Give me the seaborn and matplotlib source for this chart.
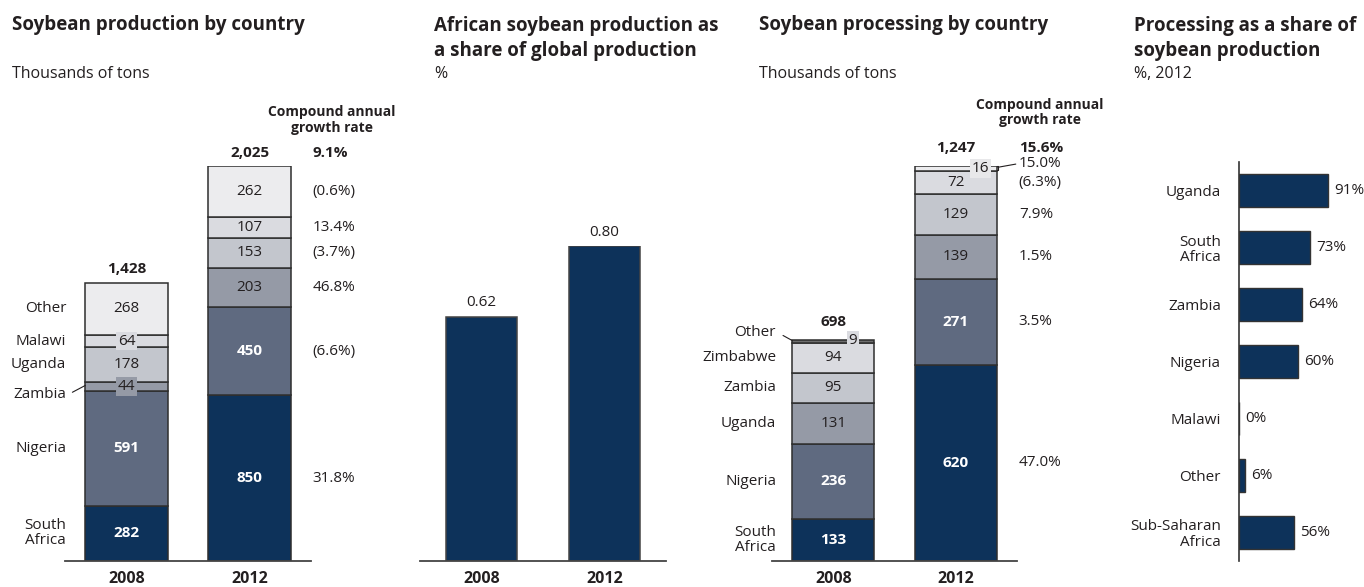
import numpy as np
import matplotlib
matplotlib.use("Agg")
import matplotlib.pyplot as plt
import seaborn as sns

years = ["2008", "2012"]

# soybean production, thousands of tons (stacked bottom -> top)
prod_countries = ["South\nAfrica", "Nigeria", "Zambia", "Uganda", "Malawi", "Other"]
prod_2008 = [282, 591, 44, 178, 64, 268]
prod_2012 = [850, 450, 203, 153, 107, 262]
prod_cagr = ["31.8%", "(6.6%)", "46.8%", "(3.7%)", "13.4%", "(0.6%)"]
prod_totals = [1428, 2025]
prod_total_cagr = "9.1%"

# african production as share of global, %
share_global = [0.62, 0.80]

# soybean processing, thousands of tons
proc_countries = ["South\nAfrica", "Nigeria", "Uganda", "Zambia", "Zimbabwe", "Other"]
proc_2008 = [133, 236, 131, 95, 94, 9]
proc_2012 = [620, 271, 139, 129, 72, 16]
proc_cagr = ["47.0%", "3.5%", "1.5%", "7.9%", "(6.3%)", "15.0%"]
proc_totals = [698, 1247]
proc_total_cagr = "15.6%"

# processing as share of production, 2012
share_countries = ["Uganda", "South\nAfrica", "Zambia", "Nigeria", "Malawi", "Other", "Sub-Saharan\nAfrica"]
share_processed = [91, 73, 64, 60, 0, 6, 56]

NAVY = "#0d325a"
SLATE = "#5f6a80"
MID = "#959aa6"
LIGHT = "#c3c6cd"
LIGHTER = "#dadbe0"
LIGHTEST = "#ececee"
EDGE = "#2e2e2e"
TXT = "#231f20"

sns.set_style("white")
plt.rcParams["font.family"] = ["Open Sans", "DejaVu Sans"]
plt.rcParams["text.color"] = TXT
plt.rcParams["xtick.color"] = TXT
plt.rcParams["ytick.color"] = TXT

W, H = 1364, 587
fig = plt.figure(figsize=(W / 100, H / 100), dpi=100)


def add_ax(l, t, r, b):
    return fig.add_axes([l / W, 1 - b / H, (r - l) / W, (b - t) / H])


def px_text(x, y, s, **kw):
    fig.text(x / W, 1 - y / H, s, **kw)


def stacked(ax, seg_a, seg_b, colors, width):
    segs = np.array([seg_a, seg_b], dtype=float).T
    bottom = np.zeros(2)
    for vals, col in zip(segs, colors):
        sns.barplot(x=years, y=vals, color=col, saturation=1, width=width,
                    bottom=bottom, edgecolor=EDGE, linewidth=1.1,
                    errorbar=None, ax=ax)
        bottom = bottom + vals
    bots = np.vstack([np.zeros(2), np.cumsum(segs, axis=0)[:-1]])
    return segs, bots + segs / 2


def style_cat_axis(ax):
    sns.despine(ax=ax, left=True)
    ax.spines["bottom"].set_color("#444444")
    ax.spines["bottom"].set_linewidth(1.3)
    ax.set_yticks([])
    ax.set_xlim(-0.5, 1.5)
    ax.set_xticks([0, 1])
    ax.set_xticklabels(years, fontweight="bold", fontsize=11.5)
    ax.tick_params(axis="x", length=0, pad=7)
    ax.set_xlabel("")
    ax.set_ylabel("")
    ax.patch.set_alpha(0)


def seg_text(ax, x, y, v, dark, **kw):
    ax.text(x, y, f"{v:.0f}", ha="center", va="center", fontsize=11,
            color="white" if dark else TXT,
            fontweight="bold" if dark else "normal", **kw)


# ---------------- panel 1: production ----------------
ax1 = add_ax(65, 166, 311, 561)
cols1 = [NAVY, SLATE, MID, LIGHT, LIGHTER, LIGHTEST]
segs, mids = stacked(ax1, prod_2008, prod_2012, cols1, 0.67)
style_cat_axis(ax1)
ax1.set_ylim(0, prod_totals[1])
for i in range(len(prod_countries)):
    for j in range(2):
        kw = {}
        if j == 0 and prod_countries[i] in ("Zambia", "Malawi"):
            kw["bbox"] = dict(boxstyle="square,pad=0.12", fc=cols1[i], ec="none")
        seg_text(ax1, j, mids[i, j], segs[i, j], i < 2, **kw)
    ly = mids[i, 0]
    if prod_countries[i] == "Zambia":
        ly = mids[i, 0] - 40
        ax1.plot([-0.44, -0.335], [ly + 10, mids[i, 0] + 5], color=TXT, lw=0.8, clip_on=False)
    ax1.text(-0.49, ly, prod_countries[i], ha="right", va="center", fontsize=11,
             linespacing=1.0, multialignment="right", clip_on=False)
    ax1.text(1.51, mids[i, 1], prod_cagr[i], ha="left", va="center", fontsize=11, clip_on=False)
for j in range(2):
    ax1.annotate(f"{prod_totals[j]:,}", (j, segs[:, j].sum()), xytext=(0, 9.5),
                 textcoords="offset points", ha="center", va="center",
                 fontsize=11, fontweight="bold", annotation_clip=False)
ax1.annotate(prod_total_cagr, (1.51, segs[:, 1].sum()), xytext=(0, 9.5),
             textcoords="offset points", ha="left", va="center",
             fontsize=11, fontweight="bold", annotation_clip=False)
ax1.text(1.67, 2261, "Compound annual\ngrowth rate", ha="center", va="center",
         fontsize=10, fontweight="bold", linespacing=1.1, clip_on=False)

# ---------------- panel 2: share of global ----------------
ax2 = add_ax(420, 246, 666, 561)
sns.barplot(x=years, y=share_global, color=NAVY, saturation=1, width=0.57,
            edgecolor="#444444", linewidth=1.1, errorbar=None, ax=ax2)
style_cat_axis(ax2)
ax2.set_ylim(0, max(share_global))
for j, v in enumerate(share_global):
    ax2.annotate(f"{v:.2f}", (j, v), xytext=(0, 10), textcoords="offset points",
                 ha="center", va="center", fontsize=11, annotation_clip=False)

# ---------------- panel 3: processing ----------------
ax3 = add_ax(772, 166, 1017, 561)
cols3 = [NAVY, SLATE, MID, LIGHT, LIGHTER, LIGHTEST]
segs3, mids3 = stacked(ax3, proc_2008, proc_2012, cols3, 0.67)
style_cat_axis(ax3)
ax3.set_ylim(0, proc_totals[1])
# the 2008 "Other" sliver is drawn dark grey in the source
n = len(proc_countries)
ax3.patches[2 * (n - 1)].set_facecolor("#6e6e6e")
for i in range(n):
    last = i == n - 1
    for j in range(2):
        if last:
            continue
        seg_text(ax3, j, mids3[i, j], segs3[i, j], i < 2)
    if last:
        top0 = segs3[:, 0].sum()
        top1 = segs3[:, 1].sum()
        ax3.text(0.16, top0 - 1, f"{segs3[i, 0]:.0f}", ha="center", va="center", fontsize=11,
                 bbox=dict(boxstyle="square,pad=0.12", fc=LIGHTER, ec="none"), zorder=5)
        ax3.text(1.2, top1 - 7, f"{segs3[i, 1]:.0f}", ha="center", va="center", fontsize=11,
                 bbox=dict(boxstyle="square,pad=0.12", fc="#e8e8ea", ec="none"), zorder=5)
        ax3.plot([-0.41, -0.335], [712, top0 - 2], color=TXT, lw=0.8, clip_on=False)
        ax3.text(-0.467, 722, proc_countries[i], ha="right", va="center", fontsize=11, clip_on=False)
        ax3.plot([1.335, 1.345, 1.345, 1.335], [top1 - 14, top1 - 14, top1, top1], color=TXT, lw=0.8, clip_on=False)
        ax3.plot([1.345, 1.49], [top1 - 4, top1 + 6], color=TXT, lw=0.8, clip_on=False)
        ax3.text(1.515, 1256, proc_cagr[i], ha="left", va="center", fontsize=11, clip_on=False)
        continue
    ax3.text(-0.467, mids3[i, 0], proc_countries[i], ha="right", va="center", fontsize=11,
             linespacing=1.0, multialignment="right", clip_on=False)
    ax3.text(1.515, mids3[i, 1], proc_cagr[i], ha="left", va="center", fontsize=11, clip_on=False)
for j in range(2):
    ax3.annotate(f"{proc_totals[j]:,}", (j, segs3[:, j].sum()), xytext=(0, 13),
                 textcoords="offset points", ha="center", va="center",
                 fontsize=11, fontweight="bold", annotation_clip=False)
ax3.annotate(proc_total_cagr, (1.515, segs3[:, 1].sum()), xytext=(0, 13),
             textcoords="offset points", ha="left", va="center",
             fontsize=11, fontweight="bold", annotation_clip=False)
ax3.text(1.686, 1416, "Compound annual\ngrowth rate", ha="center", va="center",
         fontsize=10, fontweight="bold", linespacing=1.1, clip_on=False)

# ---------------- panel 4: processing share ----------------
ax4 = add_ax(1239, 162, 1339, 561)
sns.barplot(x=share_processed, y=share_countries, orient="h", color=NAVY, saturation=1,
            width=0.58, edgecolor="#333333", linewidth=1.0, errorbar=None, ax=ax4)
sns.despine(ax=ax4, bottom=True)
ax4.spines["left"].set_color("#333333")
ax4.spines["left"].set_linewidth(1.2)
ax4.set_xlim(0, 102.2)
ax4.set_ylim(6.5, -0.5)
ax4.set_xticks([])
ax4.set_xlabel("")
ax4.set_ylabel("")
ax4.tick_params(axis="y", length=0, pad=13, labelsize=11)
for t in ax4.get_yticklabels():
    t.set_linespacing(1.0)
ax4.patch.set_alpha(0)
for i, v in enumerate(share_processed):
    ax4.annotate(f"{v}%", (v, i), xytext=(4.5, 0), textcoords="offset points",
                 ha="left", va="center", fontsize=11, annotation_clip=False)

# ---------------- titles ----------------
tkw = dict(fontsize=13.5, fontweight="bold", va="baseline")
skw = dict(fontsize=11.5, va="baseline")
px_text(12, 30, "Soybean production by country", **tkw)
px_text(12, 78, "Thousands of tons", **skw)
px_text(434, 31, "African soybean production as", **tkw)
px_text(434, 56, "a share of global production", **tkw)
px_text(434, 78, "%", **skw)
px_text(759, 30, "Soybean processing by country", **tkw)
px_text(759, 78, "Thousands of tons", **skw)
px_text(1134, 31, "Processing as a share of", **tkw)
px_text(1134, 56, "soybean production", **tkw)
px_text(1134, 78, "%, 2012", **skw)

fig.savefig("out.png", dpi=100)
